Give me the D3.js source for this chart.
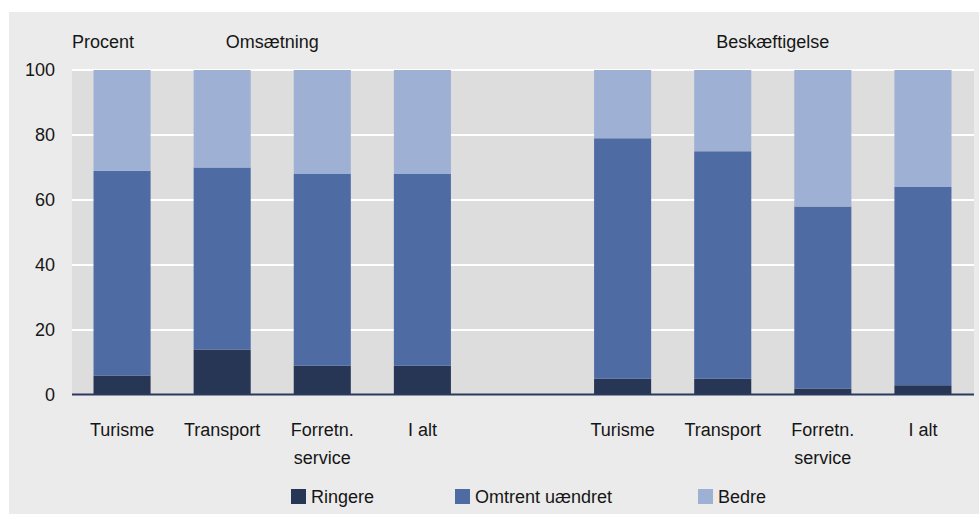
<!DOCTYPE html>
<html>
<head>
<meta charset="utf-8">
<script src="https://cdn.jsdelivr.net/npm/d3@7"></script>
<style>
  body { margin: 0; background: #fff; }
  svg text { font-family: 'Liberation Sans', Arial, sans-serif; fill: #161616; }
</style>
</head>
<body>
<svg></svg>
<script>
// data
const groups = ['Omsætning', 'Beskæftigelse']
const categories = ['Turisme', 'Transport', 'Forretn. service', 'I alt']
const series = ['Ringere', 'Omtrent uændret', 'Bedre']
const ringere = [6, 14, 9, 9, 5, 5, 2, 3]
const omtrent = [63, 56, 59, 59, 74, 70, 56, 61]
const bedre = [31, 30, 32, 32, 21, 25, 42, 36]
const yTicks = [0, 20, 40, 60, 80, 100]
const colors = ['#283655', '#4e6ca3', '#9eb0d4']

// canvas sizes
const width = 979
const height = 514
const plotLeft = 72
const plotRight = 973
const plotTop = 70
const plotBottom = 395
const fontSize = 18

const svg = d3.select('svg')
  .attr('width', width)
  .attr('height', height)

// outer grey panel
svg.append('rect')
  .attr('x', 9).attr('y', 12)
  .attr('width', width - 9).attr('height', height - 12)
  .attr('fill', '#ebebeb')

// 9 slots, the middle one stays empty
const slotOf = (i) => i < 4 ? i : i + 1
const rows = ringere.map((d, i) => ({
  slot: slotOf(i),
  label: categories[i % 4],
  Ringere: d,
  'Omtrent uændret': omtrent[i],
  Bedre: bedre[i]
}))

const xScale = d3.scaleBand()
  .domain(d3.range(9))
  .range([plotLeft, plotRight])
  .paddingInner(0.43)
  .paddingOuter(0.215)

const yScale = d3.scaleLinear()
  .domain([0, 100])
  .range([plotBottom, plotTop])

// plot background
svg.append('rect')
  .attr('x', plotLeft).attr('y', plotTop)
  .attr('width', 974 - plotLeft).attr('height', plotBottom - plotTop)
  .attr('fill', '#dddddd')

// gridlines
svg.selectAll('.grid')
  .data(yTicks.filter(d => d > 0))
  .enter()
  .append('line')
  .attr('class', 'grid')
  .attr('x1', plotLeft).attr('x2', 974)
  .attr('y1', d => yScale(d)).attr('y2', d => yScale(d))
  .attr('stroke', '#fff')
  .attr('stroke-width', 2)

// y axis labels
const yAxis = d3.axisLeft(yScale).tickValues(yTicks).tickSize(0).tickPadding(17)
svg.append('g')
  .attr('transform', 'translate(' + plotLeft + ', 0)')
  .call(yAxis)
  .call(g => g.select('.domain').remove())
  .call(g => g.attr('font-family', null).attr('font-size', null))
  .selectAll('text')
  .attr('font-size', fontSize)

// stacked bars
const stacked = d3.stack().keys(series)(rows)
svg.selectAll('.layer')
  .data(stacked)
  .enter()
  .append('g')
  .attr('class', 'layer')
  .attr('fill', (d, i) => colors[i])
  .selectAll('rect')
  .data(d => d)
  .enter()
  .append('rect')
  .attr('x', d => xScale(d.data.slot))
  .attr('width', xScale.bandwidth())
  .attr('y', d => yScale(d[1]))
  .attr('height', d => yScale(d[0]) - yScale(d[1]))

// baseline
svg.append('line')
  .attr('x1', plotLeft).attr('x2', 974)
  .attr('y1', plotBottom - 0.5).attr('y2', plotBottom - 0.5)
  .attr('stroke', '#2b3a5c')
  .attr('stroke-width', 2)

// category labels, two lines where needed
svg.selectAll('.cat')
  .data(rows)
  .enter()
  .append('text')
  .attr('class', 'cat')
  .attr('text-anchor', 'middle')
  .attr('font-size', fontSize)
  .attr('y', 436)
  .each(function (d) {
    const cx = xScale(d.slot) + xScale.bandwidth() / 2
    const words = d.label === 'Forretn. service' ? ['Forretn.', 'service'] : [d.label]
    d3.select(this).selectAll('tspan')
      .data(words)
      .enter()
      .append('tspan')
      .attr('x', cx)
      .attr('dy', (w, j) => j === 0 ? 0 : 28)
      .text(w => w)
  })

// titles
svg.append('text')
  .attr('x', plotLeft).attr('y', 48)
  .attr('font-size', fontSize)
  .text('Procent')

groups.forEach((g, i) => {
  const x0 = xScale(i * 5)
  const x1 = xScale(i * 5 + 3) + xScale.bandwidth()
  svg.append('text')
    .attr('x', (x0 + x1) / 2).attr('y', 48)
    .attr('text-anchor', 'middle')
    .attr('font-size', fontSize)
    .text(g)
})

// legend
const legendX = [291, 455, 698]
const legend = svg.selectAll('.legend')
  .data(series)
  .enter()
  .append('g')
  .attr('class', 'legend')
  .attr('transform', (d, i) => 'translate(' + legendX[i] + ', 489)')
legend.append('rect')
  .attr('width', 15).attr('height', 15)
  .attr('fill', (d, i) => colors[i])
legend.append('text')
  .attr('x', 20).attr('y', 14)
  .attr('font-size', fontSize)
  .text(d => d)
</script>
</body>
</html>
